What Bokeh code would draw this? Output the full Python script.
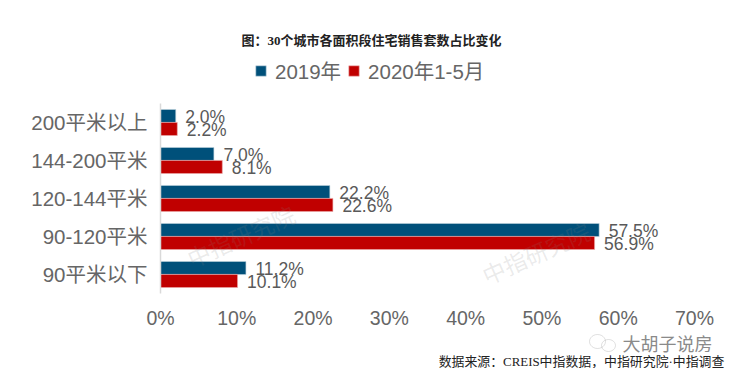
import math
from bokeh.plotting import figure
from bokeh.layouts import column
from bokeh.models import Range1d, FactorRange, Label, Legend, LegendItem, PrintfTickFormatter, ColumnDataSource, PolyAnnotation, FixedTicker
from bokeh.core.properties import value
from bokeh.embed import file_html
from bokeh.resources import INLINE
from bokeh.transform import dodge

categories = ["90平米以下", "90-120平米", "120-144平米", "144-200平米", "200平米以上"]
s2019 = [11.2, 57.5, 22.2, 7.0, 2.0]
s2020 = [10.1, 56.9, 22.6, 8.1, 2.2]
name_2019 = "2019年"
name_2020 = "2020年1-5月"
ticks = [0, 10, 20, 30, 40, 50, 60, 70]
title = "图：30个城市各面积段住宅销售套数占比变化"
source_note = "数据来源：CREIS中指数据，中指研究院·中指调查"
watermark = "中指研究院"
account = "大胡子说房"

SANS = "'Liberation Sans', 'Noto Sans CJK SC'"
SERIF = "'Liberation Serif', 'Noto Sans CJK SC'"
BLUE, RED, GREY = "#00507A", "#C00000", "#666666"
W = 728
H_TOP, H_MAIN, H_BOT = 103, 229, 36

def blank(height):
    f = figure(width=W, height=height, output_backend="svg", toolbar_location=None,
               x_axis_type=None, y_axis_type=None, x_range=Range1d(0, 1), y_range=Range1d(0, 1),
               min_border=0, outline_line_color=None, frame_align=False)
    f.grid.visible = False
    return f

def lab(f, text, x, y, size, color, font=SANS, style="normal", angle=0, alpha=1.0):
    f.add_layout(Label(x=x, y=y, x_units="canvas", y_units="canvas", text=text, text_font=font,
                       text_font_size=size, text_color=color, text_font_style=style, angle=angle,
                       angle_units="deg", text_align="center", text_baseline="middle", text_alpha=alpha,
                       level="overlay"))

# title and legend (the bars here lie outside this panel's range: they only feed the legend keys)
top = blank(H_TOP)
t1 = top.hbar(y=s2019, right=s2019, left=s2019, height=0.1, fill_color=BLUE, line_color="#BFD3DE", line_width=0.6)
t2 = top.hbar(y=s2020, right=s2020, left=s2020, height=0.1, fill_color=RED, line_color="#EBA9A9", line_width=0.6)
leg = Legend(items=[LegendItem(label=name_2019, renderers=[t1]), LegendItem(label=name_2020, renderers=[t2])],
             orientation="horizontal", location=(254, 18), padding=0, margin=0, spacing=6,
             glyph_width=13, glyph_height=13, label_standoff=8, border_line_color=None,
             background_fill_alpha=0, label_text_font=SANS, label_text_font_size="20.5px",
             label_text_color=GREY, label_height=20)
top.add_layout(leg, "center")
lab(top, title, 371, 40, "13px", "#222222", font=SERIF, style="bold")

# chart
p = figure(width=W, height=H_MAIN, output_backend="svg", toolbar_location=None,
           x_range=Range1d(0, 70), y_range=FactorRange(*categories, range_padding=0, factor_padding=0),
           min_border_left=160, min_border_right=34, min_border_top=0, min_border_bottom=39,
           outline_line_color=None, frame_align=False)
p.grid.visible = False

src = ColumnDataSource(dict(cat=categories, a=s2019, b=s2020,
                            la=[f"{v:.1f}%" for v in s2019], lb=[f"{v:.1f}%" for v in s2020]))
h = 0.345
p.hbar(y=dodge("cat", 0.17, range=p.y_range), right="a", left=0, height=h, source=src,
       fill_color=BLUE, line_color="#BFD3DE", line_width=0.6)
p.hbar(y=dodge("cat", -0.17, range=p.y_range), right="b", left=0, height=h, source=src,
       fill_color=RED, line_color="#EBA9A9", line_width=0.6)
p.text(x="a", y=dodge("cat", 0.17, range=p.y_range), text="la", source=src, x_offset=9.5, y_offset=1,
       text_font=value(SANS), text_font_size="17.5px", text_color="#595959", text_baseline="middle")
p.text(x="b", y=dodge("cat", -0.17, range=p.y_range), text="lb", source=src, x_offset=9.5, y_offset=1,
       text_font=value(SANS), text_font_size="17.5px", text_color="#595959", text_baseline="middle")

xa = p.xaxis[0]
xa.ticker = FixedTicker(ticks=ticks)
xa.formatter = PrintfTickFormatter(format="%d%%")
xa.axis_line_color = None
xa.major_tick_line_color = None
xa.minor_tick_line_color = None
xa.major_label_standoff = 7
xa.major_label_text_font = SANS
xa.major_label_text_font_size = "19.5px"
xa.major_label_text_color = GREY

ya = p.yaxis[0]
ya.axis_line_color = "#D9D9D9"
ya.axis_line_width = 1.5
ya.major_tick_line_color = None
ya.minor_tick_line_color = None
ya.major_label_standoff = 7
ya.major_label_text_font = SANS
ya.major_label_text_font_size = "20.5px"
ya.major_label_text_color = GREY

lab(p, watermark, 241, 134, "23px", "#808080", angle=24, alpha=0.17)
lab(p, watermark, 536, 151, "23px", "#808080", angle=24, alpha=0.17)

# account mark and source note
bot = blank(H_BOT)
lab(bot, account, 667, 12, "18px", "#8A8A8A")
lab(bot, source_note, 581, 29, "12.9px", "#222222", font=SERIF)
for cx, cy, rx, ry in [(597, 9, 8, 7), (608, 13, 7, 6)]:
    pts = [k * math.tau / 24 for k in range(24)]
    bot.add_layout(PolyAnnotation(xs=[cx + rx * math.cos(t) for t in pts], ys=[cy + ry * math.sin(t) for t in pts],
                                  xs_units="canvas", ys_units="canvas", fill_alpha=0,
                                  line_color="#999999", line_width=1))

open("out.html", "w").write(file_html(column(top, p, bot, spacing=0), INLINE))
